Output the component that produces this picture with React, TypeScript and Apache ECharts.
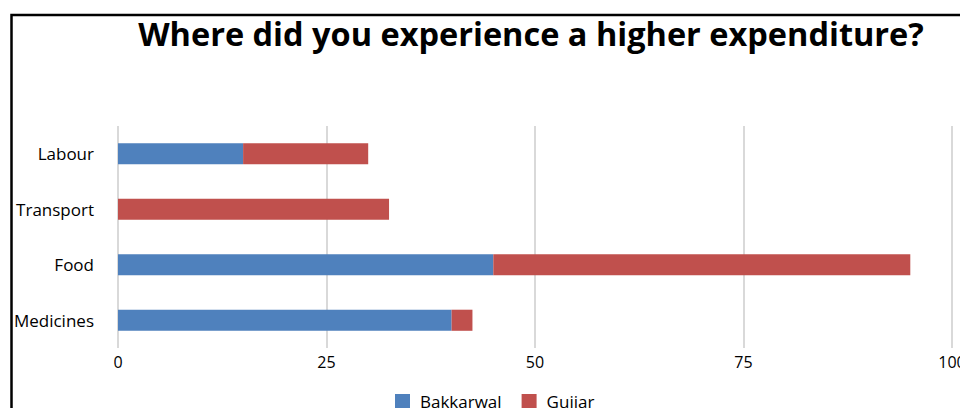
import React, { useEffect, useRef } from "react";
import * as echarts from "echarts";

const categories = ["Medicines", "Food", "Transport", "Labour"];
const bakkarwal = [40, 45, 0, 15];
const gujjar = [2.5, 50, 32.5, 15];
const xTicks = [0, 25, 50, 75, 100];
const title = "Where did you experience a higher expenditure?";

export default function App() {
  const ref = useRef<HTMLDivElement>(null);
  useEffect(() => {
    const chart = echarts.init(ref.current!, null, { renderer: "svg" });
    const font = "'Open Sans', sans-serif";
    chart.setOption({
      animation: false,
      backgroundColor: "#ffffff",
      title: {
        text: title,
        left: 526,
        textAlign: "center",
        top: 12,
        textStyle: { fontFamily: font, fontWeight: "bold", fontSize: 32.5, color: "#000" },
      },
      graphic: [
        {
          type: "rect",
          shape: { x: 11.5, y: 15, width: 1000, height: 500 },
          style: { fill: "none", stroke: "#000", lineWidth: 2.5 },
          silent: true,
        },
      ],
      legend: {
        bottom: -7,
        left: 390,
        itemWidth: 15,
        itemHeight: 15,
        itemGap: 20,
        icon: "rect",
        textStyle: { fontFamily: font, fontSize: 17, color: "#000", padding: [0, 0, 0, 5] },
        data: ["Bakkarwal", "Gujjar"],
      },
      grid: { left: 118, right: 8, top: 126, bottom: 60, containLabel: false, outerBoundsMode: "none" },
      xAxis: {
        type: "value",
        min: xTicks[0],
        max: xTicks[xTicks.length - 1],
        interval: 25,
        axisLine: { show: false },
        axisTick: { show: false },
        axisLabel: { fontFamily: font, fontSize: 16, color: "#000", margin: 6 },
        splitLine: { show: true, lineStyle: { color: "#d9d9d9", width: 2 } },
      },
      yAxis: {
        type: "category",
        data: categories,
        axisLine: { show: false },
        axisTick: { show: false },
        axisLabel: { fontFamily: font, fontSize: 17, color: "#000", margin: 24 },
        splitLine: { show: false },
      },
      series: [
        {
          name: "Bakkarwal",
          type: "bar",
          stack: "total",
          data: bakkarwal,
          barWidth: "38%",
          itemStyle: { color: "#4F81BD" },
        },
        {
          name: "Gujjar",
          type: "bar",
          stack: "total",
          data: gujjar,
          barWidth: "38%",
          itemStyle: { color: "#C0504D" },
        },
      ],
    });
    return () => chart.dispose();
  }, []);
  return (
    <div
      ref={ref}
      style={{ position: "fixed", left: 0, top: 0, width: 960, height: 408 }}
    />
  );
}
